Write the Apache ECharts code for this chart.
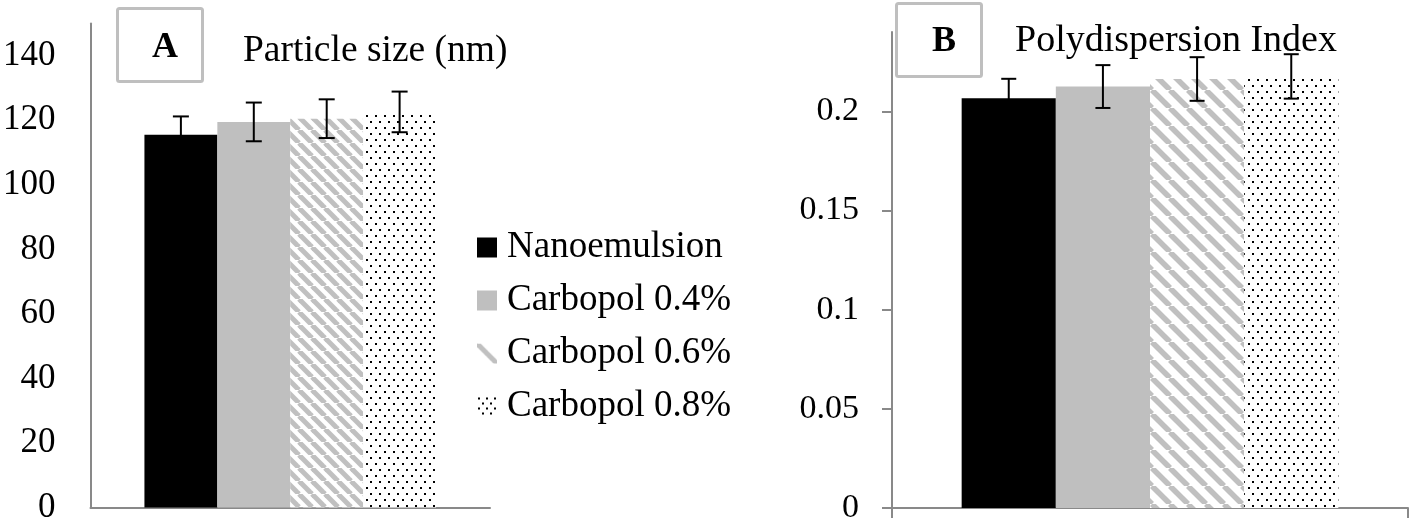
<!DOCTYPE html>
<html><head><meta charset="utf-8">
<script src="https://cdn.jsdelivr.net/npm/echarts@6/dist/echarts.min.js"></script>
<style>html,body{margin:0;padding:0;background:#fff;} #c{width:1409px;height:525px;}</style>
</head><body><div id="c"></div>
<script>
const seriesNames = ['Nanoemulsion', 'Carbopol 0.4%', 'Carbopol 0.6%', 'Carbopol 0.8%'];
const categories = [''];
const sizeMeans = [115.5, 119.5, 120.5, 122.6];
const sizeErrors = [5.7, 6.0, 6.0, 6.3];
const pdiMeans = [0.2066, 0.2125, 0.2163, 0.2176];
const pdiErrors = [0.0098, 0.0108, 0.0110, 0.0112];
const sizeTicks = [0, 20, 40, 60, 80, 100, 120, 140];
const pdiTicks = [0, 0.05, 0.1, 0.15, 0.2];

const FONT = "'Liberation Serif', 'Times New Roman', serif";
const AXIS_GRAY = '#898989';
const GAP = 0.27;

function hatch(P, w) {
  const c = document.createElement('canvas'); c.width = P; c.height = P;
  const x = c.getContext('2d');
  x.fillStyle = '#fff'; x.fillRect(0, 0, P, P);
  x.strokeStyle = '#c0c0c0'; x.lineWidth = w;
  for (let k = -1; k <= 1; k++) { x.beginPath(); x.moveTo(k * P, 0); x.lineTo(k * P + P, P); x.stroke(); }
  return { image: c, repeat: 'repeat' };
}
function dots(W, H, s) {
  const c = document.createElement('canvas'); c.width = W; c.height = H;
  const x = c.getContext('2d');
  x.fillStyle = '#fff'; x.fillRect(0, 0, W, H);
  x.fillStyle = '#000';
  x.fillRect(1, 1, s, s);
  x.fillRect(1 + Math.round(W / 2), 1 + Math.round(H / 2), s, s);
  return { image: c, repeat: 'repeat' };
}

const fillsA = ['#000000', '#bfbfbf', hatch(13, 5), dots(9, 12, 2)];
const fillsB = ['#000000', '#bfbfbf', hatch(18, 5.5), dots(9, 12, 2)];
const fillsLegend = ['#000000', '#bfbfbf', hatch(26, 5), dots(8, 10, 2)];

function bars(g, means, fills) {
  return seriesNames.map((n, i) => ({
    type: 'bar', name: n, xAxisIndex: g, yAxisIndex: g,
    data: categories.map(() => means[i]),
    barGap: '0%', barCategoryGap: (GAP * 100) + '%',
    itemStyle: { color: fills[i] }, silent: true
  }));
}
function errBars(g, means, errs, capW) {
  return {
    type: 'custom', name: 'err' + g, xAxisIndex: g, yAxisIndex: g, z: 10, silent: true,
    data: means.map((m, i) => [0, m, errs[i], i]),
    encode: { x: 0, y: 1 },
    renderItem: (params, api) => {
      const idx = api.value(3), m = api.value(1), e = api.value(2);
      const band = api.size([1, 0])[0];
      const bw = band * (1 - GAP) / seriesNames.length;
      const cx = api.coord([0, m])[0] + (idx - (seriesNames.length - 1) / 2) * bw;
      const yT = api.coord([0, m + e])[1], yB = api.coord([0, m - e])[1];
      const h = capW / 2, st = { stroke: '#000', lineWidth: 2 };
      return { type: 'group', children: [
        { type: 'line', shape: { x1: cx, y1: yT, x2: cx, y2: yB }, style: st },
        { type: 'line', shape: { x1: cx - h, y1: yT, x2: cx + h, y2: yT }, style: st },
        { type: 'line', shape: { x1: cx - h, y1: yB, x2: cx + h, y2: yB }, style: st }
      ] };
    }
  };
}

const chart = echarts.init(document.getElementById('c'), null, { renderer: 'canvas' });
chart.setOption({
  animation: false,
  backgroundColor: '#fff',
  title: [
    { text: 'A', left: 117, top: 8, padding: [21, 25, 15, 35], borderColor: '#bfbfbf', borderWidth: 3, borderRadius: 2,
      textStyle: { fontSize: 36, fontWeight: 'bold', lineHeight: 38, fontFamily: FONT, color: '#000' } },
    { text: 'Particle size (nm)', left: 243, top: 32, padding: 0,
      textStyle: { fontSize: 37.5, fontWeight: 'normal', lineHeight: 38, fontFamily: FONT, color: '#000' } },
    { text: 'B', left: 896, top: 3, padding: [20, 26, 16, 36], borderColor: '#bfbfbf', borderWidth: 3, borderRadius: 2,
      textStyle: { fontSize: 36, fontWeight: 'bold', lineHeight: 38, fontFamily: FONT, color: '#000' } },
    { text: 'Polydispersion Index', left: 1015, top: 22, padding: 0,
      textStyle: { fontSize: 38, fontWeight: 'normal', lineHeight: 38, fontFamily: FONT, color: '#000' } }
  ],
  legend: {
    orient: 'vertical', left: 477, top: 229, padding: 0, itemWidth: 20, itemHeight: 20, itemGap: 16,
    icon: 'rect', selectedMode: false,
    textStyle: { fontSize: 37, lineHeight: 37, fontFamily: FONT, color: '#000', padding: [0, 0, 0, 5] },
    data: seriesNames.map((n, i) => ({ name: n, itemStyle: { color: fillsLegend[i] } }))
  },
  grid: [
    { left: 87, top: 23.5, width: 403, height: 486 },
    { left: 892, top: 32, width: 516, height: 480 }
  ],
  xAxis: [
    { gridIndex: 0, type: 'category', data: categories,
      axisLine: { show: true, lineStyle: { color: AXIS_GRAY, width: 2 } },
      axisTick: { show: false }, axisLabel: { show: false } },
    { gridIndex: 1, type: 'category', data: categories,
      axisLine: { show: true, lineStyle: { color: AXIS_GRAY, width: 2 } },
      axisTick: { show: true, length: 10, lineStyle: { color: AXIS_GRAY, width: 2 } }, axisLabel: { show: false } }
  ],
  yAxis: [
    { gridIndex: 0, type: 'value', min: 0, max: 150, interval: 10,
      axisLine: { show: true, lineStyle: { color: AXIS_GRAY, width: 2 } },
      axisTick: { show: false }, splitLine: { show: false },
      axisLabel: { customValues: sizeTicks, fontSize: 35, margin: 35, color: '#000', fontFamily: FONT } },
    { gridIndex: 1, type: 'value', min: 0, max: 0.24, interval: 0.01,
      axisLine: { show: true, lineStyle: { color: AXIS_GRAY, width: 2 } },
      axisTick: { show: true, customValues: pdiTicks, length: 10, lineStyle: { color: AXIS_GRAY, width: 2 } },
      splitLine: { show: false },
      axisLabel: { customValues: pdiTicks, fontSize: 34, margin: 33, color: '#000', fontFamily: FONT,
        formatter: v => String(+v.toFixed(2)) } }
  ],
  series: [
    ...bars(0, sizeMeans, fillsA), errBars(0, sizeMeans, sizeErrors, 16),
    ...bars(1, pdiMeans, fillsB), errBars(1, pdiMeans, pdiErrors, 15)
  ]
});
</script>
</body></html>
